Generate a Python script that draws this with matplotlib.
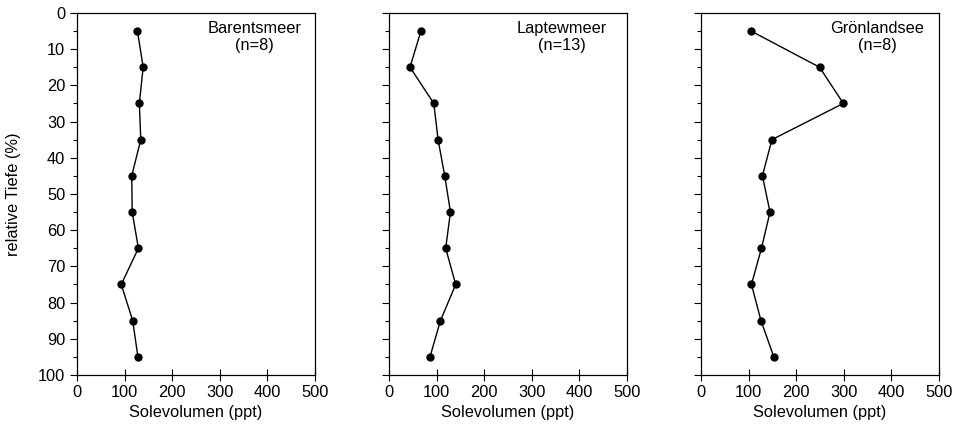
import matplotlib
matplotlib.use("Agg")
import matplotlib.pyplot as plt
from matplotlib.ticker import MultipleLocator

plt.rcParams['font.family'] = ['Liberation Sans', 'DejaVu Sans']

depth = [5, 15, 25, 35, 45, 55, 65, 75, 85, 95]
barents = [127, 139, 131, 134, 115, 116, 129, 93, 117, 128]
laptew = [67, 44, 94, 103, 117, 129, 119, 140, 108, 86]
groenland = [105, 249, 299, 149, 129, 145, 127, 106, 126, 153]

names = ["Barentsmeer\n(n=8)", "Laptewmeer\n(n=13)", "Grönlandsee\n(n=8)"]
series = [barents, laptew, groenland]
lefts = [0.0807, 0.4078, 0.7348]
name_x = [0.745, 0.727, 0.74]

fs = 11.8
fig = plt.figure(figsize=(9.54, 4.3), dpi=100)

for i in range(3):
    ax = fig.add_axes([lefts[i], 0.128, 0.2495, 0.842])
    ax.plot(series[i], depth, "-o", color="black", lw=1, ms=5)
    ax.set_xlim(0, 500)
    ax.set_ylim(100, 0)
    ax.xaxis.set_major_locator(MultipleLocator(100))
    ax.yaxis.set_major_locator(MultipleLocator(10))
    ax.yaxis.set_minor_locator(MultipleLocator(5))
    ax.tick_params(axis="x", direction="inout", length=8, width=0.8, labelsize=fs, pad=3)
    ax.tick_params(axis="y", which="major", direction="out", length=5, width=0.8, labelsize=fs)
    ax.tick_params(axis="y", which="minor", direction="out", length=3, width=0.8)
    for s in ax.spines.values():
        s.set_linewidth(0.9)
    if i > 0:
        ax.set_yticklabels([])
    else:
        ax.set_ylabel("relative Tiefe (%)", fontsize=fs, labelpad=12)
    ax.set_xlabel("Solevolumen (ppt)", fontsize=fs, labelpad=4)
    ax.text(name_x[i], 0.978, names[i], transform=ax.transAxes, ha="center", va="top",
            fontsize=fs, linespacing=1.2)

fig.savefig("out.png", dpi=100)
